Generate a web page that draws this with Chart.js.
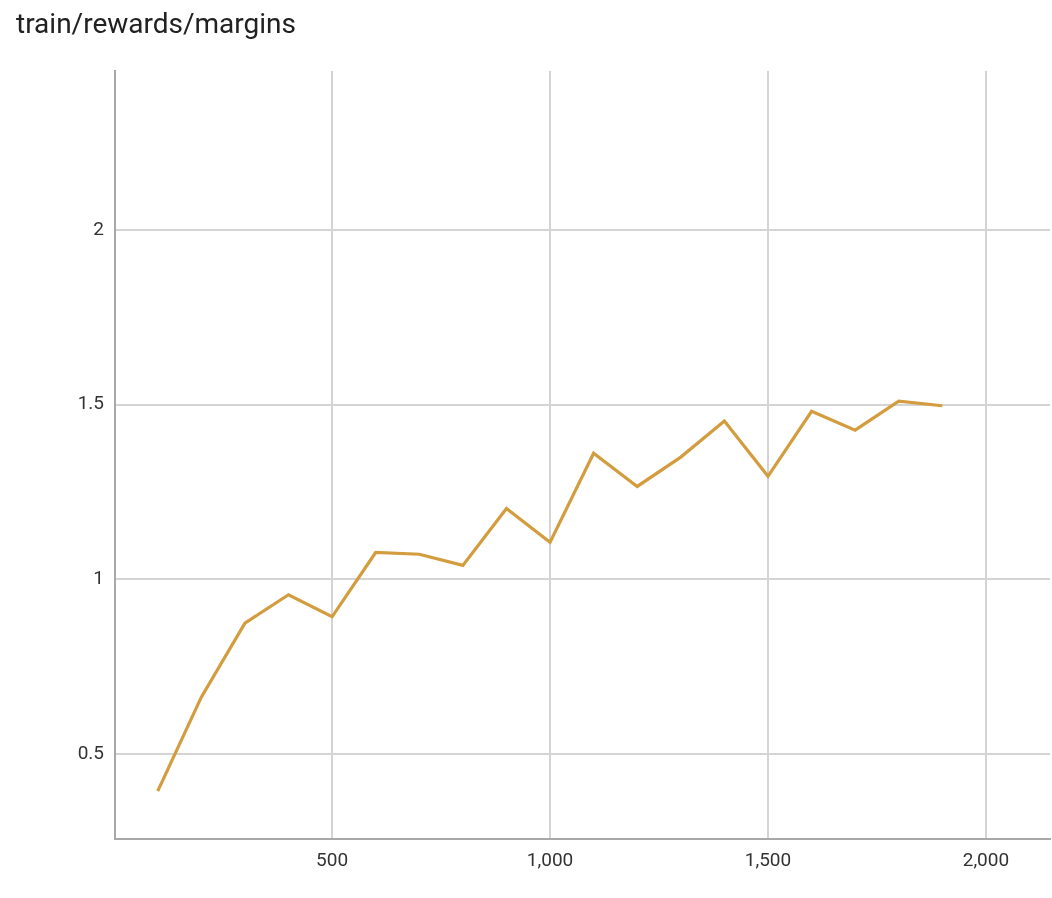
<!DOCTYPE html>
<html>
<head>
<meta charset="utf-8">
<script src="https://cdn.jsdelivr.net/npm/chart.js@4"></script>
<style>
  html, body { margin: 0; padding: 0; background: #fff; }
  #wrap { position: relative; width: 1052px; height: 898px; }
  #title {
    position: absolute; left: 16px; top: 7px;
    font-family: Roboto, sans-serif; font-size: 28px; color: #212121;
  }
  canvas { position: absolute; left: 0; top: 0; }
</style>
</head>
<body>
<div id="wrap">
  <canvas id="chart" width="1052" height="898"></canvas>
  <div id="title">train/rewards/margins</div>
</div>
<script>
// steps and margin values
const steps = [100, 200, 300, 400, 500, 600, 700, 800, 900, 1000,
               1100, 1200, 1300, 1400, 1500, 1600, 1700, 1800, 1900];
const margins = [0.394, 0.663, 0.875, 0.956, 0.893, 1.077, 1.072, 1.04, 1.203, 1.106,
                 1.361, 1.266, 1.35, 1.453, 1.295, 1.481, 1.427, 1.51, 1.497];

const xTicks = [500, 1000, 1500, 2000];
const yTicks = [0.5, 1, 1.5, 2];

const points = steps.map((s, i) => ({ x: s, y: margins[i] }));

const ctx = document.getElementById("chart").getContext("2d");
new Chart(ctx, {
  type: "line",
  data: {
    datasets: [{
      label: "train/rewards/margins",
      data: points,
      borderColor: "#d39c3e",
      borderWidth: 3.2,
      pointRadius: 0,
      tension: 0,
      fill: false
    }]
  },
  options: {
    responsive: false,
    animation: false,
    layout: { padding: { top: 71, right: 2, left: 0, bottom: 0 } },
    plugins: { legend: { display: false }, tooltip: { enabled: false } },
    scales: {
      x: {
        type: "linear",
        min: 2,
        max: 2147,
        afterFit: (scale) => { scale.height = 59; },
        afterBuildTicks: (scale) => { scale.ticks = xTicks.map(v => ({ value: v })); },
        ticks: {
          padding: 11, color: "#333", font: { family: "Roboto", size: 19 },
          callback: (v) => v.toLocaleString("en-US")
        },
        grid: { color: "#d4d4d4", lineWidth: 2, drawTicks: false },
        border: { color: "#a8a8a8", width: 2 }
      },
      y: {
        min: 0.257,
        max: 2.455,
        afterFit: (scale) => { scale.width = 115; },
        afterBuildTicks: (scale) => { scale.ticks = yTicks.map(v => ({ value: v })); },
        ticks: {
          padding: 11, color: "#333", font: { family: "Roboto", size: 19 },
          callback: (v) => String(v)
        },
        grid: { color: "#d4d4d4", lineWidth: 2, drawTicks: false },
        border: { color: "#a8a8a8", width: 2 }
      }
    }
  }
});
</script>
</body>
</html>
